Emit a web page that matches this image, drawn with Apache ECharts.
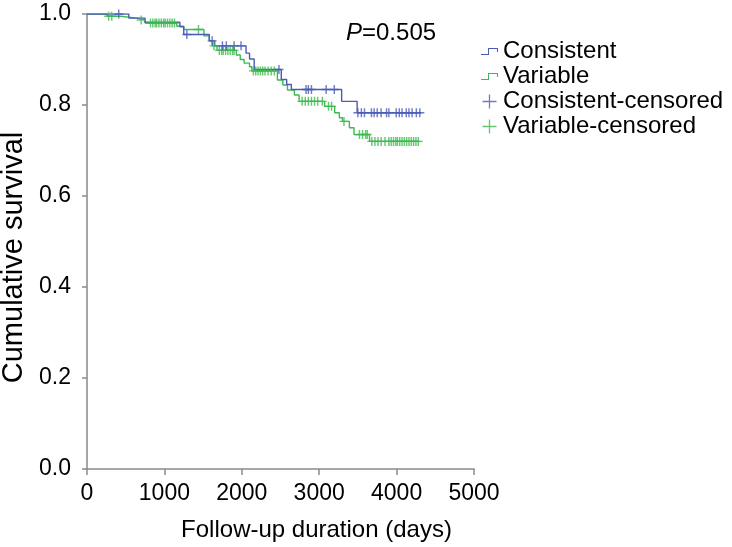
<!DOCTYPE html>
<html>
<head>
<meta charset="utf-8">
<script src="https://cdn.jsdelivr.net/npm/echarts@6/dist/echarts.min.js"></script>
<style>
html,body{margin:0;padding:0;background:#fff;}
#chart{width:732px;height:547px;}
</style>
</head>
<body>
<div id="chart"></div>
<script>
// Kaplan-Meier step points (time in days, cumulative survival)
const consistentTimes = [0, 540, 750, 1200, 1250, 1580, 1650, 2055, 2100, 2160, 2510, 2580, 2640, 3290, 3490, 4320];
const consistentSurv  = [1.0, 0.991, 0.982, 0.972, 0.955, 0.941, 0.930, 0.914, 0.901, 0.878, 0.856, 0.845, 0.834, 0.808, 0.783, 0.783];
const variableTimes = [0, 260, 430, 650, 750, 1160, 1250, 1510, 1580, 1620, 1680, 1930, 1980, 2030, 2100, 2130, 2460, 2530, 2590, 2680, 2740, 3070, 3200, 3260, 3300, 3390, 3450, 3650, 4290];
const variableSurv  = [1.0, 0.995, 0.991, 0.987, 0.980, 0.973, 0.966, 0.952, 0.941, 0.930, 0.920, 0.910, 0.900, 0.892, 0.884, 0.875, 0.855, 0.844, 0.833, 0.822, 0.808, 0.797, 0.783, 0.772, 0.764, 0.750, 0.735, 0.720, 0.720];
// censoring times (days)
const consistentCensored = [410, 1290, 1617, 1750, 1800, 1900, 1990, 2480, 2830, 2860, 2900, 3090, 3195,
  3500, 3545, 3585, 3675, 3710, 3750, 3800, 3870, 3900, 3995, 4035, 4070, 4125, 4160, 4200, 4255, 4300];
const variableCensored = [280, 320, 700, 820, 850, 880, 900, 930, 960, 990, 1010, 1040, 1070, 1100, 1130, 1440, 1640,
  1710, 1740, 1760, 1790, 1820, 1850, 1880, 1900, 2150, 2180, 2210, 2240, 2270, 2300, 2340, 2380, 2420,
  2780, 2820, 2860, 2900, 2940, 2980, 3040, 3120, 3160, 3320, 3520, 3560, 3600, 3620,
  3680, 3720, 3760, 3800, 3850, 3900, 3930, 3960, 3990, 4010, 4040, 4070, 4100, 4130, 4160, 4190, 4220, 4250, 4280];
const xTicks = [0, 1000, 2000, 3000, 4000, 5000];
const yTicks = [0.0, 0.2, 0.4, 0.6, 0.8, 1.0];
const seriesNames = ['Consistent', 'Variable', 'Consistent-censored', 'Variable-censored'];
const pValueText = '0.505';

const BLUE = '#4a5cb8';
const GREEN = '#3dba4f';
const FONT = 'Liberation Sans, Arial, Helvetica, sans-serif';

function survAt(times, surv, t) {
  let s = surv[0];
  for (let i = 0; i < times.length; i++) { if (times[i] <= t) s = surv[i]; }
  return s;
}
const zip = (a, b) => a.map((v, i) => [v, b[i]]);
const cens = (ct, times, surv) => ct.map(t => [t, survAt(times, surv, t)]);

const plusPath = 'path://M4.2,0 H5.8 V4.2 H10 V5.8 H5.8 V10 H4.2 V5.8 H0 V4.2 H4.2 Z';
const plusIcon = 'path://M6.8,0 H8.2 V6.8 H15 V8.2 H8.2 V15 H6.8 V8.2 H0 V6.8 H6.8 Z';
const stepIcon = 'path://M0,6 H7 V0 H17 V4 H16 V1 H8 V7 H0 Z';

const chart = echarts.init(document.getElementById('chart'), null, {renderer: 'canvas'});
chart.setOption({
  animation: false,
  backgroundColor: '#fff',
  textStyle: {fontFamily: FONT},
  title: {
    text: '{i|P}=' + pValueText,
    left: 341, top: 16,
    textStyle: {
      fontFamily: FONT, fontSize: 24, fontWeight: 'normal', color: '#000',
      rich: {i: {fontFamily: FONT, fontSize: 24, fontStyle: 'italic', color: '#000'}}
    }
  },
  legend: {
    orient: 'vertical',
    left: 476, top: 34,
    itemWidth: 17, itemHeight: 14,
    itemGap: 0,
    textStyle: {fontFamily: FONT, fontSize: 24, color: '#000', lineHeight: 25},
    data: [
      {name: seriesNames[0], icon: stepIcon, itemStyle: {color: BLUE}},
      {name: seriesNames[1], icon: stepIcon, itemStyle: {color: GREEN}},
      {name: seriesNames[2], icon: plusIcon, itemStyle: {color: BLUE}},
      {name: seriesNames[3], icon: plusIcon, itemStyle: {color: GREEN}}
    ]
  },
  grid: {left: 87, right: 258, top: 14, bottom: 78, containLabel: false, outerBoundsMode: 'none'},
  xAxis: {
    type: 'value', min: xTicks[0], max: xTicks[xTicks.length - 1], interval: 1000,
    name: 'Follow-up duration (days)', nameLocation: 'middle', nameGap: 49,
    nameTextStyle: {fontFamily: FONT, fontSize: 24, color: '#000', padding: [0, 0, 0, 72]},
    axisLine: {lineStyle: {color: '#8a8a8a', width: 1.5}},
    axisTick: {show: true, length: 6, lineStyle: {color: '#8a8a8a', width: 1.5}},
    axisLabel: {fontFamily: FONT, fontSize: 23, color: '#000', margin: 13, formatter: v => String(v)},
    splitLine: {show: false}
  },
  yAxis: {
    type: 'value', min: yTicks[0], max: yTicks[yTicks.length - 1], interval: 0.2,
    name: 'Cumulative survival', nameLocation: 'middle', nameGap: 56,
    nameTextStyle: {fontFamily: FONT, fontSize: 29, color: '#000', padding: [0, 0, 0, -32]},
    axisLine: {show: true, lineStyle: {color: '#8a8a8a', width: 1.5}},
    axisTick: {show: true, length: 5, lineStyle: {color: '#8a8a8a', width: 1.5}},
    axisLabel: {fontFamily: FONT, fontSize: 23, color: '#000', margin: 16, formatter: v => v.toFixed(1)},
    splitLine: {show: false}
  },
  series: [
    {
      name: seriesNames[0], type: 'line', step: 'end', showSymbol: false, symbol: 'none',
      data: zip(consistentTimes, consistentSurv), color: BLUE, itemStyle: {color: BLUE},
      lineStyle: {color: BLUE, width: 1.4}, z: 3
    },
    {
      name: seriesNames[1], type: 'line', step: 'end', showSymbol: false, symbol: 'none',
      data: zip(variableTimes, variableSurv), color: GREEN, itemStyle: {color: GREEN},
      lineStyle: {color: GREEN, width: 1.4}, z: 2
    },
    {
      name: seriesNames[2], type: 'scatter', symbol: plusPath, symbolSize: 9,
      data: cens(consistentCensored, consistentTimes, consistentSurv), color: BLUE,
      itemStyle: {color: BLUE}, z: 4
    },
    {
      name: seriesNames[3], type: 'scatter', symbol: plusPath, symbolSize: 9,
      data: cens(variableCensored, variableTimes, variableSurv), color: GREEN,
      itemStyle: {color: GREEN}, z: 3
    }
  ]
});
</script>
</body>
</html>
